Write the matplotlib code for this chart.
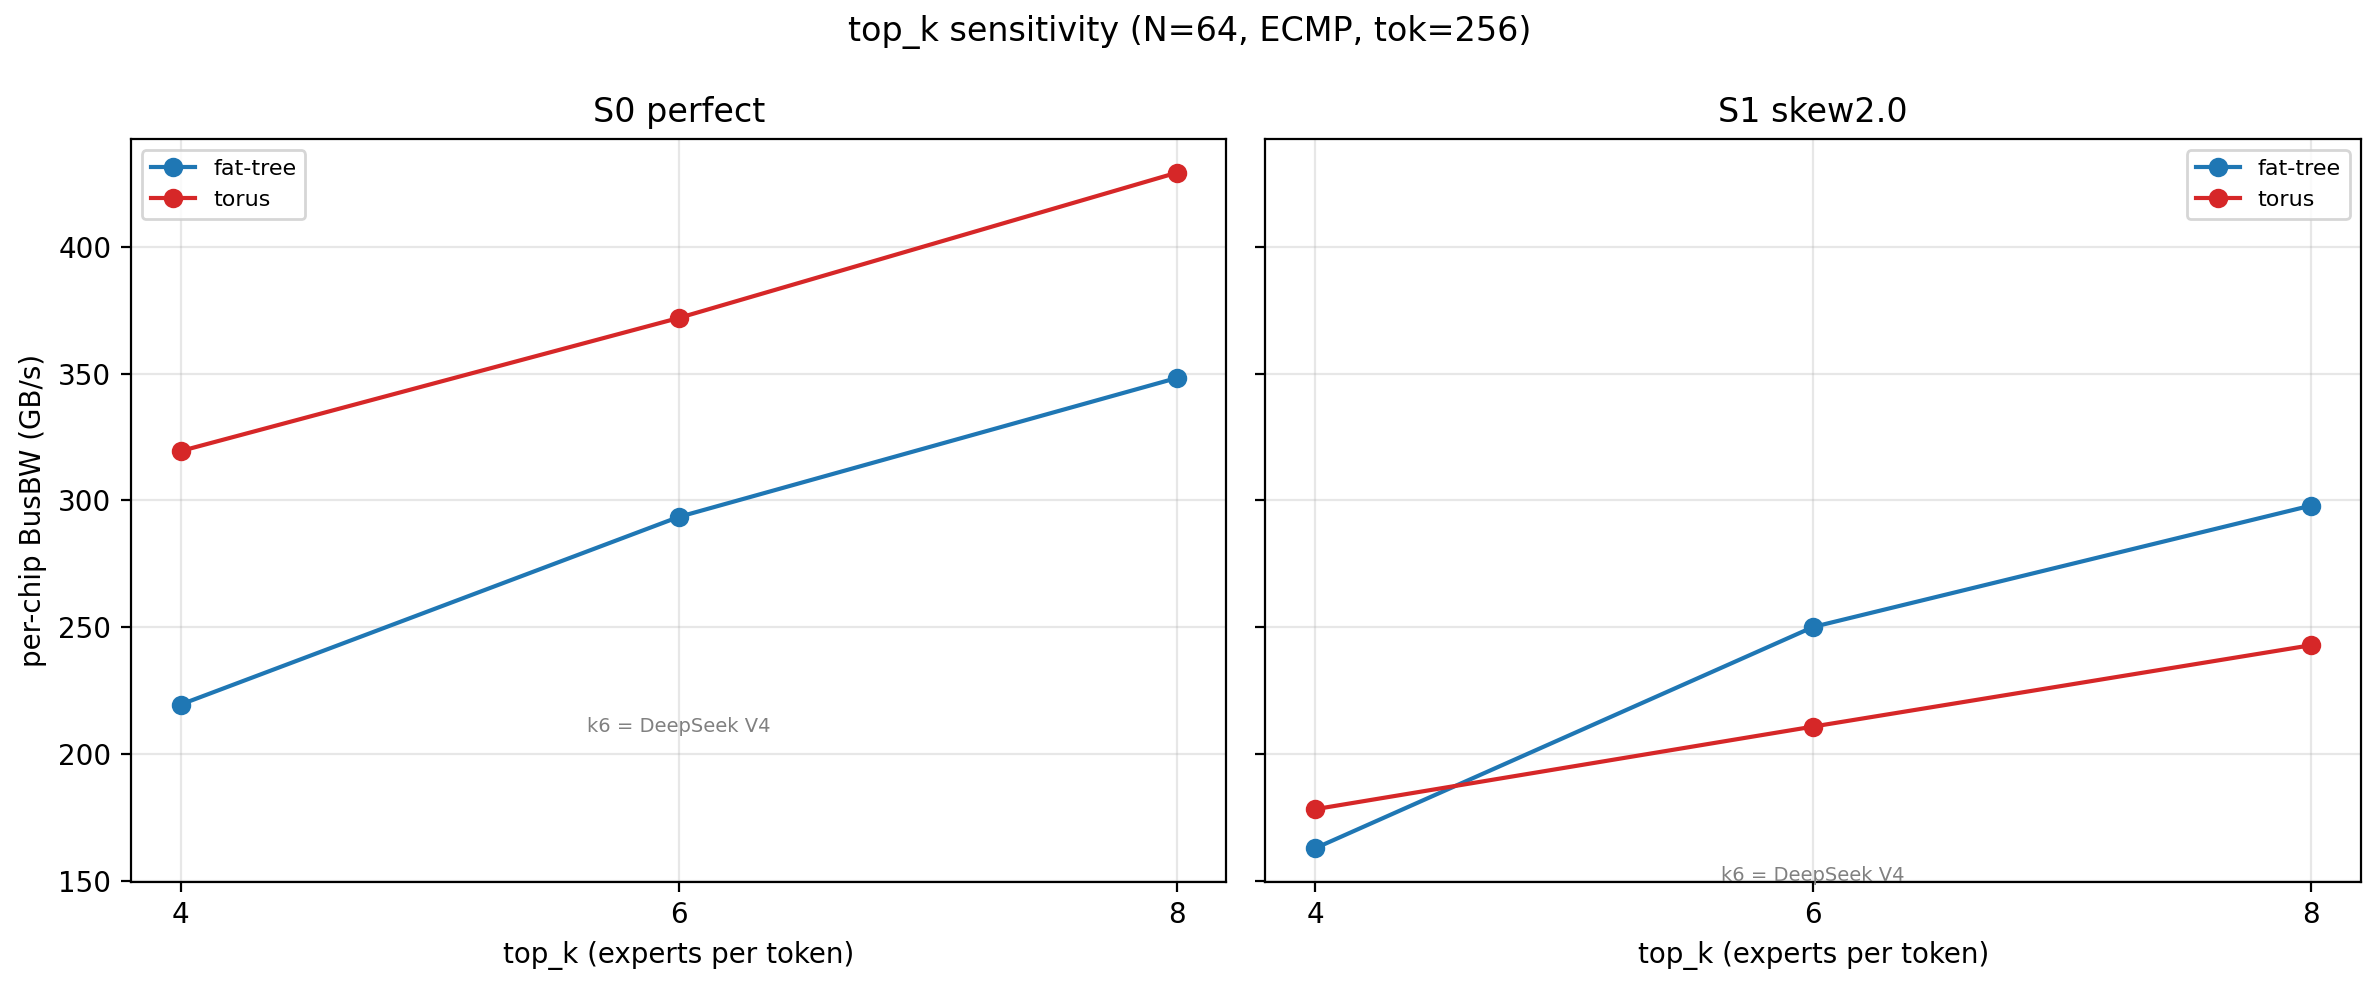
import matplotlib
matplotlib.use("Agg")
import matplotlib.pyplot as plt

top_k = [4, 6, 8]
panels = ["S0 perfect", "S1 skew2.0"]
fat_tree = {"S0 perfect": [219.5, 293.5, 348.3], "S1 skew2.0": [162.8, 250.1, 298.0]}
torus = {"S0 perfect": [319.5, 372.0, 429.3], "S1 skew2.0": [178.2, 210.8, 242.9]}
note_y = {"S0 perfect": 211.0, "S1 skew2.0": 152.0}
legend_loc = {"S0 perfect": "upper left", "S1 skew2.0": "upper right"}

fig, axes = plt.subplots(1, 2, figsize=(11.9, 4.95), dpi=200, sharey=True)

for ax, name in zip(axes, panels):
    ax.plot(top_k, fat_tree[name], marker="o", color="#1f77b4", label="fat-tree")
    ax.plot(top_k, torus[name], marker="o", color="#d62728", label="torus")
    ax.set_title(name)
    ax.set_xlabel("top_k (experts per token)")
    ax.set_xticks(top_k)
    ax.grid(True, alpha=0.3)
    ax.legend(loc=legend_loc[name], fontsize=8)
    # annotation marking the DeepSeek V4 setting
    ax.text(6, note_y[name], "k6 = DeepSeek V4", fontsize=7, color="gray",
            ha="center", va="center")

axes[0].set_ylabel("per-chip BusBW (GB/s)")
fig.suptitle("top_k sensitivity (N=64, ECMP, tok=256)", y=0.985)
fig.subplots_adjust(left=0.055, right=0.992, top=0.8596, bottom=0.1091, wspace=0.0356)
fig.savefig("out.png")
